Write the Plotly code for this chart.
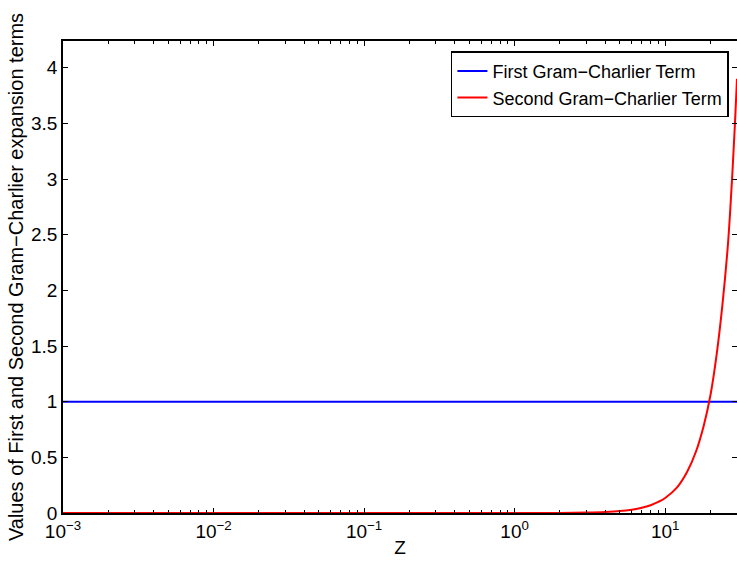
import plotly.graph_objects as go

# Data
z_first = [0.001, 0.01, 0.1, 1, 10, 30]
first_term = [1, 1, 1, 1, 1, 1]

z_second = [0.001, 0.01, 0.1, 0.5, 1, 2, 3, 4, 5, 6, 7, 8, 9, 10, 12, 14, 16, 18,
            20, 22, 24, 26, 27, 28, 29, 30]
second_term = [0, 0, 0, 0.00002, 0.0001, 0.001, 0.004, 0.009, 0.017, 0.03, 0.047,
               0.07, 0.1, 0.135, 0.23, 0.37, 0.55, 0.78, 1.06, 1.43, 1.87, 2.38,
               2.7, 3.07, 3.47, 3.9]

x_tick_vals = [0.001, 0.01, 0.1, 1, 10]
x_tick_text = ["10<sup>−3</sup>", "10<sup>−2</sup>", "10<sup>−1</sup>",
               "10<sup>0</sup>", "10<sup>1</sup>"]
y_tick_vals = [0, 0.5, 1, 1.5, 2, 2.5, 3, 3.5, 4]
y_tick_text = ["0", "0.5", "1", "1.5", "2", "2.5", "3", "3.5", "4"]

minor_x = [m * d for d in [0.001, 0.01, 0.1, 1, 10] for m in range(2, 10) if m * d <= 30]

FONT = "Liberation Sans, Arial, Helvetica, sans-serif"

fig = go.Figure()
fig.add_trace(go.Scatter(x=z_first, y=first_term, mode="lines",
                         name="First Gram−Charlier Term",
                         line=dict(color="#0000ff", width=2)))
fig.add_trace(go.Scatter(x=z_second, y=second_term, mode="lines",
                         name="Second Gram−Charlier Term",
                         line=dict(color="#ff0000", width=2, shape="spline")))

fig.update_layout(
    width=737, height=564,
    margin=dict(l=63, r=0, t=41, b=51, pad=0),
    paper_bgcolor="white", plot_bgcolor="white",
    font=dict(family=FONT, size=19, color="black"),
    showlegend=True,
    legend=dict(x=0.988, y=0.978, xanchor="right", yanchor="top",
                bgcolor="white", bordercolor="black", borderwidth=1.5,
                font=dict(family=FONT, size=18, color="black"),
                tracegroupgap=0, itemwidth=30),
    xaxis=dict(type="log", range=[-3, 1.4771], tickvals=x_tick_vals,
               ticktext=x_tick_text, ticks="inside", ticklen=5, tickwidth=1,
               tickcolor="black", showline=True, linecolor="black", linewidth=1.5,
               mirror="ticks", showgrid=False, zeroline=False, automargin=False,
               minor=dict(ticks="inside", ticklen=3, tickvals=minor_x,
                          tickcolor="black", showgrid=False),
               title=dict(text="Z", standoff=0, font=dict(size=19)),
               tickfont=dict(size=19)),
    yaxis=dict(range=[0, 4.24], tickvals=y_tick_vals, ticktext=y_tick_text,
               ticks="inside", ticklen=5, tickwidth=1, tickcolor="black",
               showline=True, linecolor="black", linewidth=1.5, mirror="ticks",
               showgrid=False, zeroline=False, automargin=False,
               ticklabelstandoff=0,
               title=dict(text="Values of First and Second Gram−Charlier expansion terms",
                          standoff=2, font=dict(size=20)),
               tickfont=dict(size=19)),
)

fig.write_html(
    "out.html",
    config={"displayModeBar": False},
    post_script="document.body.style.margin='0';document.body.style.overflow='hidden';"
                "document.documentElement.style.overflow='hidden';",
)
